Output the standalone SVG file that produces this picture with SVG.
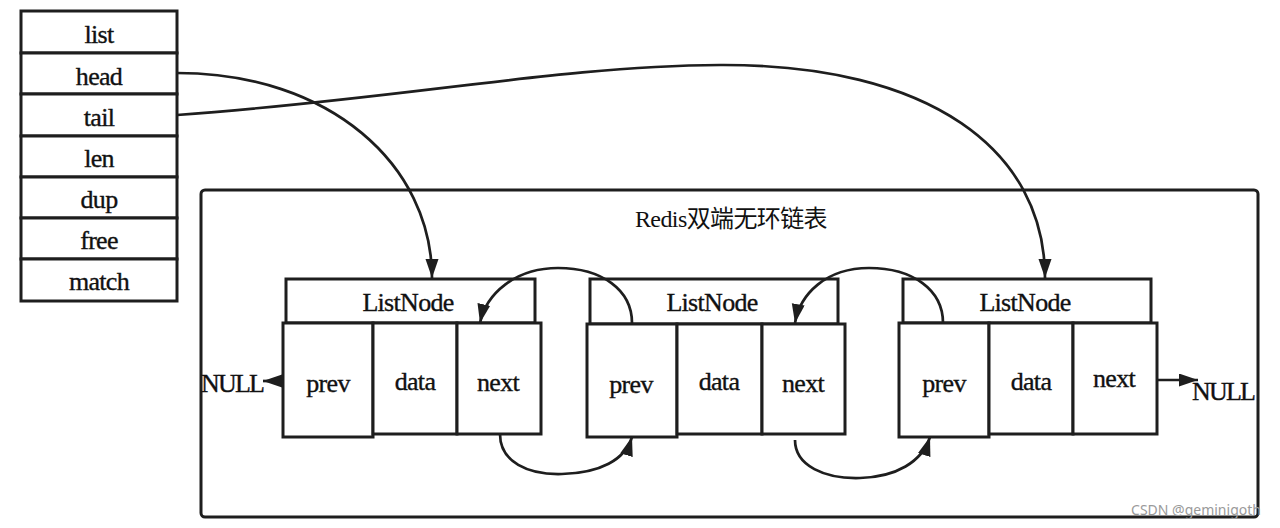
<svg xmlns="http://www.w3.org/2000/svg" width="1280" height="528" viewBox="0 0 1280 528">
<defs>
<style>
.b{fill:#fff;stroke:#1e1e1e;stroke-width:3}
.t{font-family:"Liberation Serif","Times New Roman",serif;font-size:26px;fill:#111;stroke:#111;stroke-width:0.35;text-anchor:middle;letter-spacing:-0.7px}
.c{fill:none;stroke:#1e1e1e;stroke-width:2.7}
</style>
<marker id="ah" markerUnits="userSpaceOnUse" markerWidth="22" markerHeight="14" refX="19" refY="6.5" orient="auto">
<path d="M0,0 L19,6.5 L0,13 z" fill="#1e1e1e"/>
</marker>
</defs>
<rect width="1280" height="528" fill="#fff"/>

<g id="list">
<rect class="b" x="21" y="11" width="156" height="42"/>
<rect class="b" x="21" y="53" width="156" height="41"/>
<rect class="b" x="21" y="94" width="156" height="42"/>
<rect class="b" x="21" y="136" width="156" height="41"/>
<rect class="b" x="21" y="177" width="156" height="41"/>
<rect class="b" x="21" y="218" width="156" height="41"/>
<rect class="b" x="21" y="259" width="156" height="42"/>
<text class="t" x="99" y="43">list</text>
<text class="t" x="99" y="85">head</text>
<text class="t" x="99" y="126">tail</text>
<text class="t" x="99" y="167">len</text>
<text class="t" x="99" y="208">dup</text>
<text class="t" x="99" y="249">free</text>
<text class="t" x="99" y="290">match</text>
</g>

<g id="container">
<rect x="201" y="190" width="1057" height="327" rx="4" fill="none" stroke="#1e1e1e" stroke-width="3"/>
<text x="731" y="227" font-family="Liberation Serif,'Noto Sans CJK SC',serif" font-size="24" fill="#111" text-anchor="middle" letter-spacing="-0.6">Redis<tspan font-family="'Noto Sans CJK SC',sans-serif">双端无环链表</tspan></text>
</g>

<g id="node1">
<rect class="b" x="286" y="279" width="249" height="44"/>
<rect class="b" x="283" y="323" width="90" height="114"/>
<rect class="b" x="373" y="323" width="84" height="111"/>
<rect class="b" x="457" y="323" width="84" height="111"/>
<text class="t" x="408" y="311">ListNode</text>
<text class="t" x="328" y="392">prev</text>
<text class="t" x="415" y="390">data</text>
<text class="t" x="498" y="391">next</text>
</g>

<g id="node2">
<rect class="b" x="590" y="279" width="248" height="45"/>
<rect class="b" x="587" y="324" width="90" height="113"/>
<rect class="b" x="677" y="324" width="85" height="110"/>
<rect class="b" x="762" y="324" width="83" height="110"/>
<text class="t" x="712" y="311">ListNode</text>
<text class="t" x="631" y="393">prev</text>
<text class="t" x="719" y="390">data</text>
<text class="t" x="803" y="392">next</text>
</g>

<g id="node3">
<rect class="b" x="903" y="279" width="248" height="44"/>
<rect class="b" x="899" y="323" width="90" height="114"/>
<rect class="b" x="989" y="323" width="84" height="111"/>
<rect class="b" x="1073" y="323" width="84" height="111"/>
<text class="t" x="1025" y="311">ListNode</text>
<text class="t" x="944" y="392">prev</text>
<text class="t" x="1031" y="390">data</text>
<text class="t" x="1114" y="387">next</text>
</g>

<g id="null-left"><text class="t" x="232" y="392" style="letter-spacing:-1.8px">NULL</text></g>
<g id="null-right"><text class="t" x="1223" y="400" style="letter-spacing:-1.8px">NULL</text></g>

<g id="connectors">
<path class="c" d="M177,73 C330,73 432,165 432,278" marker-end="url(#ah)"/>
<path class="c" d="M177,115 C400,99 560,66 720,65 C930,64 1045,150 1045,278" marker-end="url(#ah)"/>
<path class="c" d="M632,323 C632,290 602,268 558,268 C515,268 486,294 480,323" marker-end="url(#ah)"/>
<path class="c" d="M943,323 C943,290 913,268 869,268 C826,268 800,294 795,323" marker-end="url(#ah)"/>
<path class="c" d="M500,434 C500,462 528,475 562,474 C600,473 625,460 632,437" marker-end="url(#ah)"/>
<path class="c" d="M795,440 C795,466 825,479 860,478 C896,477 922,462 930,437" marker-end="url(#ah)"/>
<path class="c" d="M283,381 L263,381" marker-end="url(#ah)"/>
<path class="c" d="M1157,380 L1198,380" marker-end="url(#ah)"/>
</g>

<text x="1196" y="515" font-family="'Noto Sans',sans-serif" font-size="14" fill="#9a9a9a" text-anchor="middle">CSDN @geminigoth</text>
</svg>
